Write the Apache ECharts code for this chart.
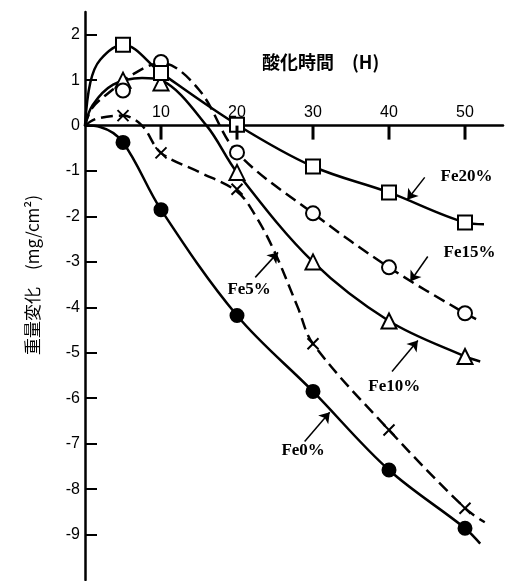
<!DOCTYPE html>
<html>
<head>
<meta charset="utf-8">
<script src="https://cdn.jsdelivr.net/npm/echarts@6/dist/echarts.min.js"></script>
<style>html,body{margin:0;padding:0;background:#fff}#c{width:513px;height:581px}</style>
</head>
<body>
<div id="c"></div>
<script>
// ---- data ----
const xTicks = [10, 20, 30, 40, 50];
const yTicks = [-9, -8, -7, -6, -5, -4, -3, -2, -1, 0, 1, 2];
const timesH = [5, 10, 20, 30, 40, 50];
const fe0 = [-0.37, -1.85, -4.18, -5.85, -7.58, -8.86];
const fe5 = [0.22, -0.6, -1.4, -4.8, -6.7, -8.42];
const fe10 = [1.0, 0.94, -1.03, -3.0, -4.3, -5.08];
const fe15 = [0.77, 1.4, -0.59, -1.93, -3.12, -4.13];
const fe20 = [1.78, 1.16, 0.02, -0.9, -1.47, -2.13];
// traced curve paths
const fe0Curve = [[0,0],[2,-0.03],[5,-0.37],[10,-1.85],[20,-4.18],[30,-5.85],[40,-7.58],[50,-8.86],[52,-9.2]];
const fe5Curve = [[0,0],[1.5,0.15],[5,0.22],[7.5,0],[10,-0.6],[15,-1.02],[20,-1.45],[22.5,-2.0],[25,-2.8],[28,-4.0],[30,-4.8],[40,-6.7],[50,-8.42],[52.6,-8.73]];
const fe10Curve = [[0,0],[1,0.45],[3.7,0.9],[7.5,1.05],[10,1.0],[16,0],[20,-1.03],[30,-3.0],[40,-4.3],[50,-5.08],[52,-5.19]];
const fe15Curve = [[0,0],[1,0.4],[3.7,0.8],[6,1.1],[10,1.38],[15,0.79],[20,-0.59],[30,-1.93],[40,-3.12],[50,-4.13],[52,-4.3]];
const fe20Curve = [[0,0],[0.7,0.95],[2,1.45],[5,1.78],[10,1.16],[20,0.02],[30,-0.9],[40,-1.47],[50,-2.13],[52.5,-2.17]];
const seriesNames = ['Fe0%', 'Fe5%', 'Fe10%', 'Fe15%', 'Fe20%'];

// ---- annotations (layout) ----
const labelPos = {
  'Fe0%': [28.7, -7.16], 'Fe5%': [21.6, -3.6], 'Fe10%': [40.7, -5.74],
  'Fe15%': [50.6, -2.79], 'Fe20%': [50.2, -1.12]
};
const arrows = {
  'Fe0%': [[28.9, -6.95], [32.2, -6.31]],
  'Fe5%': [[22.4, -3.34], [25.4, -2.79]],
  'Fe10%': [[40.4, -5.41], [43.8, -4.73]],
  'Fe15%': [[45.1, -2.88], [42.8, -3.43]],
  'Fe20%': [[44.7, -1.14], [42.4, -1.63]]
};

const pts = arr => timesH.map((t, i) => [t, arr[i]]);
const curves = [fe0Curve, fe5Curve, fe10Curve, fe15Curve, fe20Curve];
const marks = [fe0, fe5, fe10, fe15, fe20];
const dashed = [false, true, false, true, false];
const crossPath = 'path://M0,0L10,10M10,0L0,10';
const symbols = [
  {symbol: 'circle', size: 13, fill: '#000'},
  {symbol: crossPath, size: 11, fill: 'rgba(0,0,0,0)'},
  {symbol: 'triangle', size: 15, fill: '#fff'},
  {symbol: 'circle', size: 14, fill: '#fff'},
  {symbol: 'rect', size: 14, fill: '#fff'}
];

const gridTop = 12, gridH = 568, yMin = -10, yMax = 2.5;
const zeroOffset = -(gridH * (0 - yMin) / (yMax - yMin));

const series = [];
curves.forEach((c, i) => {
  const name = seriesNames[i];
  series.push({
    type: 'line', name: name, data: c, smooth: 0.35, showSymbol: false,
    lineStyle: {color: '#000', width: 2.5, type: dashed[i] ? [12, 6] : 'solid'},
    z: 2, silent: true,
    markLine: {
      silent: true, symbol: ['none', 'arrow'], symbolSize: 10,
      lineStyle: {color: '#000', width: 1.5, type: 'solid'},
      label: {show: false},
      data: [[{coord: arrows[name][0]}, {coord: arrows[name][1]}]]
    }
  });
});
marks.forEach((m, i) => {
  const s = symbols[i];
  series.push({
    type: 'scatter', name: seriesNames[i] + ' pts', data: pts(m),
    symbol: s.symbol, symbolSize: s.size, z: 5,
    itemStyle: {color: s.fill, borderColor: '#000', borderWidth: 2, opacity: 1}
  });
});

const chart = echarts.init(document.getElementById('c'));
chart.setOption({
  animation: false,
  backgroundColor: '#fff',
  grid: {left: 85, top: gridTop, width: 418, height: gridH},
  xAxis: {
    type: 'value', min: 0, max: 55, interval: 10, position: 'bottom', offset: zeroOffset,
    axisLine: {onZero: false, lineStyle: {color: '#000', width: 2.5}},
    axisTick: {show: false},
    axisLabel: {inside: true, margin: 5, color: '#000', fontSize: 16, fontFamily: 'Liberation Sans',
      showMaxLabel: false,
      formatter: v => (xTicks.indexOf(v) >= 0 ? String(v) : '')},
    splitLine: {show: false}
  },
  yAxis: {
    type: 'value', min: yMin, max: yMax,
    axisLine: {lineStyle: {color: '#000', width: 2.5}},
    axisTick: {show: true, inside: true, length: 12, lineStyle: {color: '#000', width: 2}, customValues: yTicks},
    axisLabel: {margin: 5, color: '#000', fontSize: 16, fontFamily: 'Liberation Sans', customValues: yTicks},
    splitLine: {show: false}
  },
  series: series
});

const gfx = [];
// x-axis tick marks pointing down from the zero line
xTicks.forEach(t => {
  const p = chart.convertToPixel({gridIndex: 0}, [t, 0]);
  gfx.push({
    type: 'rect', z: 100, zlevel: 1, silent: true,
    shape: {x: p[0] - 1.5, y: p[1], width: 3, height: 14},
    style: {fill: '#000'}
  });
});
seriesNames.forEach(n => {
  const p = chart.convertToPixel({gridIndex: 0}, labelPos[n]);
  gfx.push({
    type: 'text', x: p[0], y: p[1], z: 10,
    style: {text: n, fill: '#000', font: 'bold 17px "Liberation Serif"', align: 'center', verticalAlign: 'middle'}
  });
});
gfx.push({
  type: 'text', x: 262, y: 62, z: 10,
  style: {text: '酸化時間\u3000(H)', fill: '#000', font: 'bold 18px "Noto Sans CJK JP"', verticalAlign: 'middle'}
});
gfx.push({
  type: 'text', x: 33, y: 275, rotation: Math.PI / 2, z: 10,
  style: {text: '重量変化\u3000(mg/cm²)', fill: '#000', font: '17px "Noto Sans CJK JP"', align: 'center', verticalAlign: 'middle'}
});
chart.setOption({graphic: gfx});
</script>
</body>
</html>
